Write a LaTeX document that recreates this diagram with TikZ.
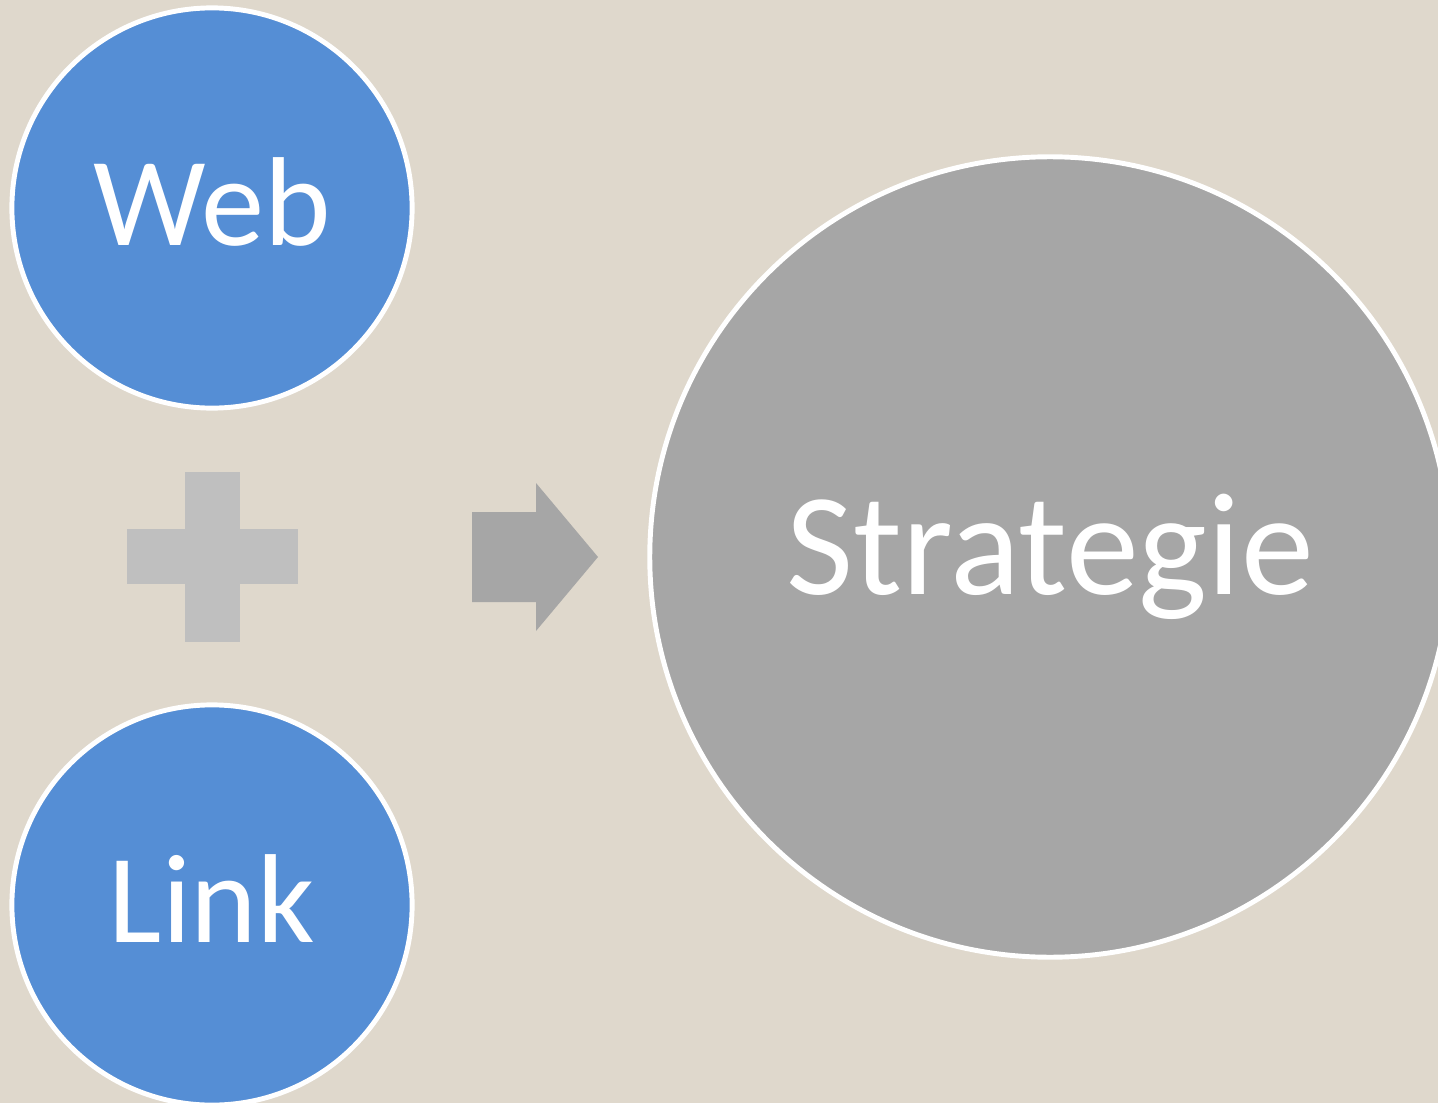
\documentclass[tikz,border=0pt]{standalone}
\usepackage{fontspec}
\setmainfont{Carlito}
\usepackage{tikz}
\usetikzlibrary{calc}

\definecolor{bgbeige}{HTML}{DFD8CC}
\definecolor{webblue}{HTML}{558ED5}
\definecolor{stratgray}{HTML}{A6A6A6}
\definecolor{plusgray}{HTML}{BFBFBF}

\tikzset{
  bubble/.style={circle, draw=white, line width=1.4pt, text=white, inner sep=0},
  small bubble/.style={bubble, fill=webblue, minimum size=4cm, font=\fontsize{36}{40}\selectfont},
  big bubble/.style={bubble, fill=stratgray, minimum size=8cm, font=\fontsize{41.5}{46}\selectfont}
}

\begin{document}
\begin{tikzpicture}[x=0.01cm, y=-0.01cm]
\useasboundingbox (0,0) rectangle (1438,1103);
\fill[bgbeige] (0,0) rectangle (1438,1103);
\clip (0,0) rectangle (1438,1103);

\node[small bubble] (web) at (212,208) {\raisebox{1.3mm}{Web}};
\node[small bubble] (link) at (212,905) {\raisebox{1.3mm}{Link}};
\node[big bubble] (strategie) at (1050,557) {Strategie};

% plus sign
\fill[plusgray] (185,472) rectangle (240,642);
\fill[plusgray] (127,529) rectangle (298,584);

% arrow
\fill[stratgray] (472,512) -- (536,512) -- (536,483) -- (598,557) -- (536,631) -- (536,602) -- (472,602) -- cycle;
\end{tikzpicture}
\end{document}
